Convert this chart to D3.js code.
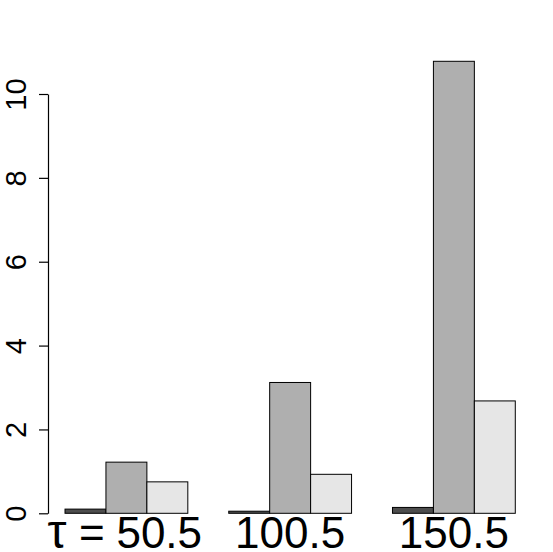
<!DOCTYPE html>
<html>
<head>
<meta charset="utf-8">
<script src="https://cdn.jsdelivr.net/npm/d3@7"></script>
<style>
  body { margin: 0; background: #fff; }
  svg { display: block; font-family: "Liberation Sans", Arial, sans-serif; }
</style>
</head>
<body>
<div id="chart"></div>
<script>
var width = 553;
var height = 552;

// values
var groupLabels = ["\u03C4 = 50.5", "100.5", "150.5"];
var darkValues = [0.10, 0.05, 0.14];
var midValues = [1.22, 3.12, 10.78];
var lightValues = [0.75, 0.93, 2.68];
var yTicks = [0, 2, 4, 6, 8, 10];

var seriesColors = ["#4d4d4d", "#afafaf", "#e6e6e6"];
var series = [darkValues, midValues, lightValues];

var svg = d3.select("#chart").append("svg")
    .attr("width", width)
    .attr("height", height);

// R barplot(beside=TRUE): bars of width 1, one empty unit between groups
var x = d3.scaleLinear().domain([0.56, 12.44]).range([47, 533.3]);
var y = d3.scaleLinear().domain([0, 10]).range([513.3, 94]);

var bars = [];
groupLabels.forEach(function(g, gi) {
    series.forEach(function(vals, si) {
        bars.push({ left: 1 + gi * 4 + si, value: vals[gi], color: seriesColors[si] });
    });
});

svg.selectAll(".bar").data(bars).enter()
    .append("rect")
    .attr("class", "bar")
    .attr("x", d => x(d.left))
    .attr("y", d => y(d.value))
    .attr("width", d => x(d.left + 1) - x(d.left))
    .attr("height", d => y(0) - y(d.value))
    .attr("fill", d => d.color)
    .attr("stroke", "#000")
    .attr("stroke-width", 1);

// left axis, labels turned like R's default las=0
var axis = svg.append("g")
    .attr("transform", "translate(48,0)")
    .call(d3.axisLeft(y).tickValues(yTicks).tickSize(9).tickSizeOuter(0));
axis.select(".domain").attr("stroke", "#000").attr("stroke-width", 1.2);
axis.selectAll(".tick line").attr("stroke", "#000").attr("stroke-width", 1.2);
axis.selectAll(".tick text")
    .attr("x", 0)
    .attr("dy", 0)
    .attr("text-anchor", "middle")
    .attr("transform", "translate(-22,0) rotate(-90)")
    .style("font-size", "29px")
    .style("font-family", "'Liberation Sans', Arial, sans-serif")
    .attr("fill", "#000");

// group labels under the bars; the first one is the plotmath "tau == 50.5"
var labels = svg.selectAll(".glabel").data(groupLabels).enter()
    .append("text")
    .attr("class", "glabel")
    .attr("x", (d, i) => x(1 + i * 4 + 1.5))
    .attr("y", 548)
    .attr("text-anchor", "middle")
    .style("font-size", "44px")
    .attr("fill", "#000");

labels.each(function(d, i) {
    var t = d3.select(this);
    var cx = x(1 + i * 4 + 1.5);
    if (d.indexOf("=") < 0) { t.text(d); return; }
    var parts = d.split(" = ");
    t.attr("text-anchor", "start");
    t.append("tspan").attr("x", cx - 79).style("font-size", "48px").text(parts[0]);
    t.append("tspan").attr("x", cx - 47.5).text("=");
    t.append("tspan").attr("x", cx - 10).text(parts[1]);
});
</script>
</body>
</html>
